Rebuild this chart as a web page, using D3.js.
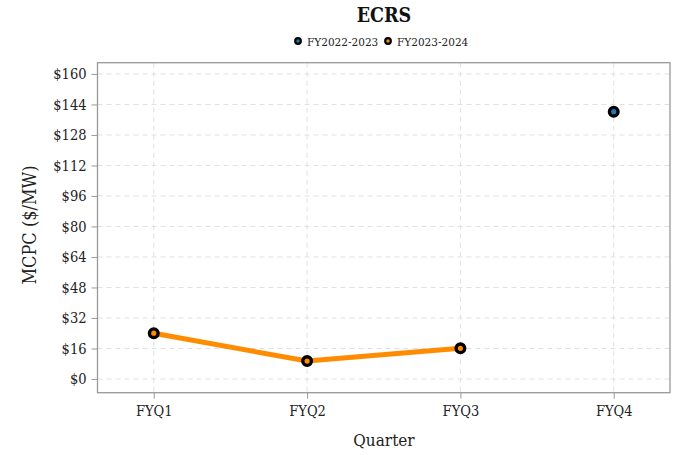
<!DOCTYPE html>
<html><head><meta charset="utf-8">
<script src="https://cdn.jsdelivr.net/npm/d3@7"></script>
<style>body{margin:0;background:#fff}svg{display:block}text{font-family:"DejaVu Serif Condensed","DejaVu Serif",serif;font-stretch:condensed}</style>
</head><body><svg id="c" width="673" height="455"></svg>
<script>
const quarters = ["FYQ1","FYQ2","FYQ3","FYQ4"];
const seriesNames = ["FY2022-2023","FY2023-2024"];
const fy2223 = [null, null, null, 140.2];
const fy2324 = [24.0, 9.4, 16.1, null];
const yTicks = [0,16,32,48,64,80,96,112,128,144,160];
const colors = ["#1f77b4","#ff8c00"];

const svg = d3.select("#c");
const L=97.5, R=670, T=62.7, B=392.7;
const x = d3.scalePoint().domain(quarters).range([L,R]).padding(0.367);
const y = d3.scaleLinear().domain([-7.2,165.9]).range([B,T]);

// grid
const g = svg.append("g");
g.selectAll(".hg").data(yTicks).join("line")
 .attr("x1",L).attr("x2",R).attr("y1",d=>y(d)).attr("y2",d=>y(d))
 .attr("stroke","#e0e0e0").attr("stroke-dasharray","5,4").attr("stroke-width",1);
g.selectAll(".vg").data(quarters).join("line")
 .attr("y1",T).attr("y2",B).attr("x1",d=>x(d)).attr("x2",d=>x(d))
 .attr("stroke","#e0e0e0").attr("stroke-dasharray","5,4").attr("stroke-width",1);

// frame
svg.append("rect").attr("x",L).attr("y",T).attr("width",R-L).attr("height",B-T)
 .attr("fill","none").attr("stroke","#999").attr("stroke-width",1.3);

// axes
const ya = svg.append("g").attr("transform",`translate(${L},0)`)
 .call(d3.axisLeft(y).tickValues(yTicks).tickFormat(d=>"$"+d).tickSize(6).tickPadding(5));
const xa = svg.append("g").attr("transform",`translate(0,${B})`)
 .call(d3.axisBottom(x).tickSize(6).tickPadding(7));
[ya,xa].forEach(a=>{
  a.select(".domain").remove();
  a.selectAll(".tick line").attr("stroke","#999");
  a.selectAll(".tick text").attr("fill","#222").style("font-size","14.5px")
   .style("font-family","'DejaVu Serif Condensed','DejaVu Serif',serif");
});

// line for FY2023-2024
const pts = quarters.map((q,i)=>({q,v:fy2324[i]}));
const line = d3.line().defined(d=>d.v!=null).x(d=>x(d.q)).y(d=>y(d.v));
svg.append("path").datum(pts).attr("d",line).attr("fill","none")
 .attr("stroke",colors[1]).attr("stroke-width",5).attr("stroke-linejoin","round");

[fy2223, fy2324].forEach((arr,si)=>{
  svg.append("g").selectAll("circle").data(quarters.map((q,i)=>({q,v:arr[i]})).filter(d=>d.v!=null))
   .join("circle").attr("cx",d=>x(d.q)).attr("cy",d=>y(d.v)).attr("r",4.3)
   .attr("fill",colors[si]).attr("stroke","#000").attr("stroke-width",3.4);
});

// title
svg.append("text").attr("x",384).attr("y",22).attr("text-anchor","middle")
 .style("font-size","19.5px").style("font-weight","bold").attr("fill","#111").text("ECRS");

// legend
const leg = svg.append("g");
const legX = [298, 388];
seriesNames.forEach((n,i)=>{
  leg.append("circle").attr("cx",legX[i]).attr("cy",41).attr("r",2.8)
   .attr("fill",colors[i]).attr("stroke","#000").attr("stroke-width",2.2);
  leg.append("text").attr("x",legX[i]+9).attr("y",45.5).style("font-size","11.7px")
   .attr("fill","#222").text(n);
});

// axis titles
svg.append("text").attr("transform","translate(36,225) rotate(-90)").attr("text-anchor","middle")
 .style("font-size","18px").attr("fill","#222").text("MCPC ($/MW)");
svg.append("text").attr("x",384).attr("y",446).attr("text-anchor","middle")
 .style("font-size","17px").attr("fill","#222").text("Quarter");
</script></body></html>
